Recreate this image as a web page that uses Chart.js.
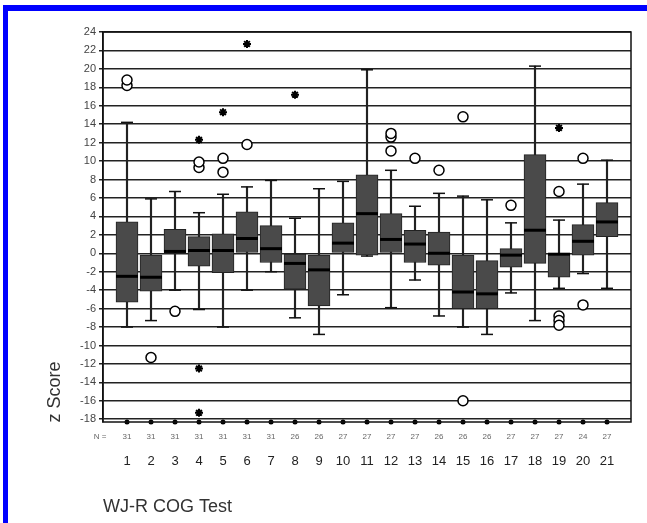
<!DOCTYPE html>
<html>
<head>
<meta charset="utf-8">
<script src="https://cdn.jsdelivr.net/npm/chart.js@4/dist/chart.umd.min.js"></script>
<style>
  body { margin: 0; background: #fff; }
  #frame { position: absolute; left: 3px; top: 5px; width: 644px; height: 518px;
           border-top: 6px solid #0000ff; border-left: 5px solid #0000ff; box-sizing: border-box; }
  #wrap { position: absolute; left: 0; top: 0; width: 647px; height: 523px; }
</style>
</head>
<body>
<div id="frame"></div>
<div id="wrap"><canvas id="chart" width="647" height="523"></canvas></div>
<script>
// test numbers and group sizes
var categories = [1, 2, 3, 4, 5, 6, 7, 8, 9, 10, 11, 12, 13, 14, 15, 16, 17, 18, 19, 20, 21];
var nCounts = [31, 31, 31, 31, 31, 31, 31, 26, 26, 27, 27, 27, 27, 26, 26, 26, 27, 27, 27, 24, 27];

// box plot statistics (z scores)
var whiskerLow  = [-8, -7.3, -4, -6.1, -8, -4, -2, -7, -8.8, -4.5, -0.3, -5.9, -2.9, -6.8, -8, -8.8, -4.3, -7.3, -3.8, -2.2, -3.8];
var q1          = [-5.3, -4.1, 0, -1.4, -2.1, 0, -1, -3.9, -5.7, 0, -0.2, 0, -1, -1.3, -6, -6, -1.5, -1.1, -2.6, -0.2, 1.8];
var median      = [-2.5, -2.6, 0.2, 0.3, 0.3, 1.6, 0.5, -1.1, -1.8, 1.1, 4.3, 1.5, 1, 0, -4.2, -4.4, -0.2, 2.5, -0.1, 1.3, 3.4];
var q3          = [3.4, -0.2, 2.6, 1.8, 2.1, 4.5, 3, 0, -0.2, 3.3, 8.5, 4.3, 2.5, 2.3, -0.2, -0.8, 0.5, 10.7, 0, 3.1, 5.5];
var whiskerHigh = [14.2, 5.9, 6.7, 4.4, 6.4, 7.2, 7.9, 3.8, 7, 7.8, 19.9, 9, 5.1, 6.5, 6.2, 5.8, 3.3, 20.3, 3.6, 7.5, 10.1];

// outliers (circles) and extremes (asterisks): [test, z]
var outliers = [[1, 18.2], [1, 18.8], [2, -11.3], [3, -6.3], [4, 9.3], [4, 9.9], [5, 8.8], [5, 10.3],
  [6, 11.8], [12, 11.1], [12, 12.6], [12, 13], [13, 10.3], [14, 9], [15, 14.8], [15, -16],
  [17, 5.2], [19, -6.8], [19, -7.3], [19, -7.8], [19, 6.7], [20, 10.3], [20, -5.6]];
var extremes = [[4, 12.3], [4, -12.5], [4, -17.3], [5, 15.3], [6, 22.7], [8, 17.2], [19, 13.6]];

var yTicks = [24, 22, 20, 18, 16, 14, 12, 10, 8, 6, 4, 2, 0, -2, -4, -6, -8, -10, -12, -14, -16, -18];
var yMin = -18.3, yMax = 24;

var ctx = document.getElementById("chart").getContext("2d");

var toPts = function (arr) {
  return arr.map(function (p) { return { x: p[0], y: p[1] }; });
};
var perCat = function (vals) {
  return categories.map(function (c, i) { return { x: c, y: vals[i] }; });
};

var extraText = {
  id: "extraText",
  afterDraw: function (chart) {
    var c = chart.ctx, area = chart.chartArea, xs = chart.scales.x;
    c.save();
    c.strokeStyle = "#111";
    c.lineWidth = 1.5;
    c.strokeRect(area.left, area.top, area.right - area.left, area.bottom - area.top);
    c.fillStyle = "#666";
    c.font = "8px 'Liberation Sans', Arial, sans-serif";
    c.textAlign = "center";
    c.textBaseline = "middle";
    c.fillText("N =", 100, 437);
    categories.forEach(function (cat, i) {
      c.fillText(String(nCounts[i]), xs.getPixelForValue(cat), 437);
    });
    c.fillStyle = "#333";
    c.textAlign = "left";
    c.font = "18px 'Liberation Sans', Arial, sans-serif";
    c.fillText("WJ-R COG Test", 103, 507);
    c.translate(55, 392);
    c.rotate(-Math.PI / 2);
    c.textAlign = "center";
    c.font = "18px 'Liberation Sans', Arial, sans-serif";
    c.fillText("z Score", 0, 0);
    c.restore();
  }
};

var myChart = new Chart(ctx, {
  type: "bar",
  data: {
    datasets: [
      {
        type: "scatter",
        data: perCat(median),
        pointStyle: "line",
        radius: 11,
        borderWidth: 3,
        borderColor: "#000",
        order: 0,
      },
      {
        type: "scatter",
        data: toPts(outliers),
        pointStyle: "circle",
        radius: 5,
        borderWidth: 1.5,
        borderColor: "#000",
        backgroundColor: "#fff",
        order: 0,
      },
      {
        type: "scatter",
        data: toPts(extremes),
        pointStyle: "star",
        radius: 4,
        borderWidth: 2,
        borderColor: "#000",
        order: 0,
      },
      {
        type: "scatter",
        data: categories.map(function (c) { return { x: c, y: yMin }; }),
        pointStyle: "circle",
        radius: 2.5,
        borderWidth: 0,
        backgroundColor: "#000",
        clip: false,
        order: 0,
      },
      {
        data: categories.map(function (c, i) { return { x: c, y: [q1[i], q3[i]] }; }),
        backgroundColor: "#4a4a4a",
        borderColor: "#222",
        borderWidth: 1,
        borderSkipped: false,
        barThickness: 22,
        grouped: false,
        order: 1,
      },
      {
        type: "scatter",
        data: perCat(whiskerLow).concat(perCat(whiskerHigh)),
        pointStyle: "line",
        radius: 6,
        borderWidth: 1.5,
        borderColor: "#111",
        order: 2,
      },
      {
        data: categories.map(function (c, i) { return { x: c, y: [whiskerLow[i], whiskerHigh[i]] }; }),
        backgroundColor: "#222",
        borderWidth: 0,
        barThickness: 1.5,
        grouped: false,
        order: 3,
      },
    ],
  },
  options: {
    responsive: false,
    animation: false,
    layout: { padding: { left: 0, right: 16, top: 32, bottom: 0 } },
    scales: {
      x: {
        type: "linear",
        min: 0,
        max: 22,
        offset: false,
        grid: { display: false, drawTicks: false },
        border: { display: false },
        afterBuildTicks: function (scale) {
          scale.ticks = categories.map(function (c) { return { value: c }; });
        },
        afterFit: function (scale) { scale.height = 101; },
        ticks: {
          padding: 32,
          color: "#222",
          font: { size: 13, family: "'Liberation Sans', Arial, sans-serif" },
          maxRotation: 0,
          autoSkip: false,
        },
      },
      y: {
        min: yMin,
        max: yMax,
        afterBuildTicks: function (scale) {
          scale.ticks = yTicks.map(function (v) { return { value: v }; });
        },
        afterFit: function (scale) { scale.width = 103; },
        grid: { color: "#222", lineWidth: 1.5, tickLength: 4, tickColor: "#222" },
        border: { display: true, color: "#111", width: 1.5 },
        ticks: {
          padding: 3,
          color: "#444",
          font: { size: 11, family: "'Liberation Sans', Arial, sans-serif" },
        },
      },
    },
    plugins: {
      legend: { display: false },
      tooltip: { enabled: false },
    },
  },
  plugins: [extraText],
});
</script>
</body>
</html>
